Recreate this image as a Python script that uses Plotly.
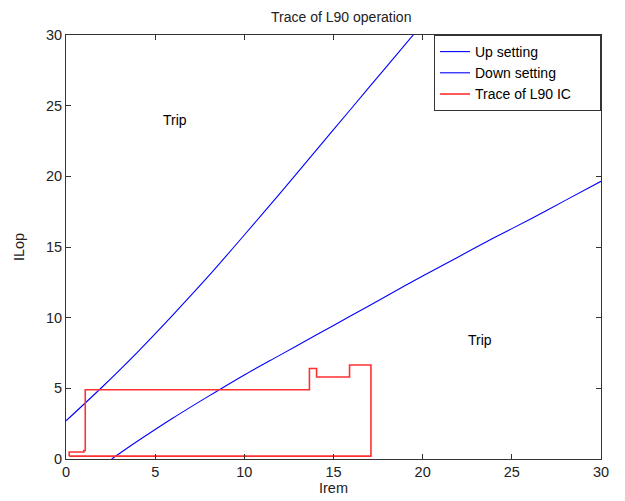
import plotly.graph_objects as go

# Operating characteristic: "Up setting" boundary (Irem, ILop)
up_irem = [0, 2, 4, 6, 8, 10, 12, 14, 16, 18, 19.5]
up_ilop = [2.7, 5.06, 7.55, 10.2, 12.95, 15.85, 18.8, 21.8, 24.8, 27.8, 30.05]

# Operating characteristic: "Down setting" boundary
down_irem = [2.56, 4, 6, 8, 10, 12, 14, 16, 18, 20, 22, 24, 26, 28, 30]
down_ilop = [0, 1.25, 2.9, 4.45, 5.95, 7.35, 8.75, 10.15, 11.55, 12.95, 14.3, 15.65, 16.95, 18.3, 19.65]

# Recorded trace of the L90 IC
trace_irem = [0.18, 0.18, 1.0, 1.0, 1.08, 1.08, 13.65, 13.65, 14.05, 14.05, 15.9, 15.9, 17.1, 17.1, 0.18]
trace_ilop = [0.2, 0.5, 0.5, 0.6, 0.6, 4.9, 4.9, 6.4, 6.4, 5.8, 5.8, 6.65, 6.65, 0.2, 0.2]

# Region annotations
region_labels = ["Trip", "Trip"]
region_irem = [6.1, 23.2]
region_ilop = [24.0, 8.4]

x_ticks = [0, 5, 10, 15, 20, 25, 30]
y_ticks = [0, 5, 10, 15, 20, 25, 30]

FONT = "Liberation Sans, Arial, sans-serif"
PAD = "\u00a0" * 6  # widens the legend box a little

fig = go.Figure()
fig.add_trace(go.Scatter(x=up_irem, y=up_ilop, mode="lines", name="Up setting" + PAD,
                         line=dict(color="#0000ff", width=1.1, shape="spline", smoothing=0.8)))
fig.add_trace(go.Scatter(x=down_irem, y=down_ilop, mode="lines", name="Down setting" + PAD,
                         line=dict(color="#0000ff", width=1.1, shape="spline", smoothing=0.8)))
fig.add_trace(go.Scatter(x=trace_irem, y=trace_ilop, mode="lines", name="Trace of L90 IC" + PAD,
                         line=dict(color="#ff3030", width=1.6)))

for txt, xv, yv in zip(region_labels, region_irem, region_ilop):
    fig.add_annotation(x=xv, y=yv, text=txt, showarrow=False,
                       font=dict(family=FONT, size=14, color="#000000"))

axis_common = dict(showline=True, linecolor="#333333", linewidth=1, mirror="ticks",
                   ticks="inside", ticklen=5, tickcolor="#333333", showgrid=False,
                   zeroline=False, automargin=False,
                   tickfont=dict(family=FONT, size=14.5, color="#222222"))

fig.update_xaxes(range=[0, 30], tickvals=x_ticks,
                 title=dict(text="Irem", font=dict(family=FONT, size=14.5, color="#222222"), standoff=3),
                 **axis_common)
fig.update_yaxes(range=[0, 30], tickvals=y_ticks,
                 title=dict(text="ILop", font=dict(family=FONT, size=14.5, color="#222222"), standoff=17),
                 **axis_common)

fig.update_layout(
    width=625, height=501,
    margin=dict(l=66, r=24, t=35, b=42),
    paper_bgcolor="white", plot_bgcolor="white",
    title=dict(text="Trace of L90 operation", x=0.546, xanchor="center", y=0.976, yanchor="top",
               font=dict(family=FONT, size=14, color="#222222")),
    showlegend=True,
    legend=dict(x=1, y=1, xanchor="right", yanchor="top", bgcolor="white",
                bordercolor="#333333", borderwidth=1, tracegroupgap=0,
                font=dict(family=FONT, size=14, color="#000000")),
)

fig.write_html("out.html")
